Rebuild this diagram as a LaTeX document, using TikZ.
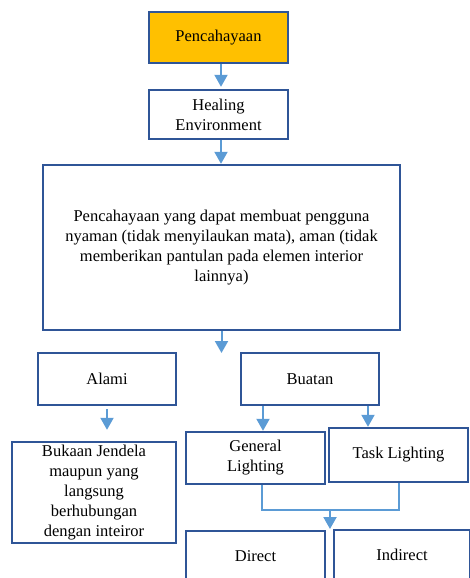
\documentclass[tikz,border=0pt]{standalone}
\usepackage{fontspec}
\setmainfont{Liberation Serif}
\usetikzlibrary{arrows.meta}
\definecolor{boxblue}{HTML}{2F5597}
\definecolor{arrblue}{HTML}{5B9BD5}
\definecolor{gold}{HTML}{FFC000}
\tikzset{
  box/.style={draw=boxblue, line width=2.4pt, inner sep=0pt, align=center,
    font=\fontsize{16.5}{20}\selectfont},
  arr/.style={draw=arrblue, line width=2pt, -{Triangle[width=13pt,length=12pt]}},
  conn/.style={draw=arrblue, line width=2pt},
}
\begin{document}
\begin{tikzpicture}[x=1pt,y=-1pt]
\useasboundingbox (0,0) rectangle (469,578);
\node[box, fill=gold, minimum width=139pt, minimum height=51pt] (pen) at (218.5,37.5) {Pencahayaan};
\node[box, minimum width=139pt, minimum height=49pt] (heal) at (218.5,114.5) {Healing\\Environment};
\node[box, minimum width=357pt, minimum height=165pt] (big) at (221.5,247.5)
  {Pencahayaan yang dapat membuat pengguna\\nyaman (tidak menyilaukan mata), aman (tidak\\memberikan pantulan pada elemen interior\\lainnya)};
\node[box, minimum width=138pt, minimum height=52pt] (alami) at (107,379) {Alami};
\node[box, minimum width=138pt, minimum height=52pt] (buatan) at (310,379) {Buatan};
\node[box, minimum width=164pt, minimum height=101pt] (bukaan) at (94,492.5)
  {Bukaan Jendela\\maupun yang\\langsung\\berhubungan\\dengan inteiror};
\node[box, minimum width=139pt, minimum height=52pt] (general) at (255.5,458) {General\\Lighting};
\node[box, minimum width=139pt, minimum height=54pt] (task) at (398.5,455) {Task Lighting};
\node[box, minimum width=139pt, minimum height=50pt] (direct) at (255.5,556) {Direct};
\node[box, minimum width=136pt, minimum height=50pt] (indirect) at (402,555) {Indirect};

\coordinate (split) at (221.5,353);
\coordinate (merge) at (330,510);
\coordinate (mergeend) at (330,529);

\draw[arr, shorten >=2pt] ([xshift=2.5pt]pen.south) -- ([xshift=2.5pt]pen.south |- heal.north);
\draw[arr] ([xshift=2.5pt]heal.south) -- ([xshift=2.5pt]heal.south |- big.north);
\draw[arr] (big.south) -- (split);
\draw[arr, shorten <=3pt, shorten >=11pt] (alami.south) -- (bukaan.north -| alami.south);
\draw[arr] ([xshift=-47pt]buatan.south) -- ([xshift=-47pt]buatan.south |- general.north);
\draw[arr] ([xshift=58pt]buatan.south) -- ([xshift=58pt]buatan.south |- task.north);
\draw[conn] ([xshift=6.5pt]general.south) |- (merge) -| (task.south);
\draw[arr] (merge) -- (mergeend);
\end{tikzpicture}
\end{document}
